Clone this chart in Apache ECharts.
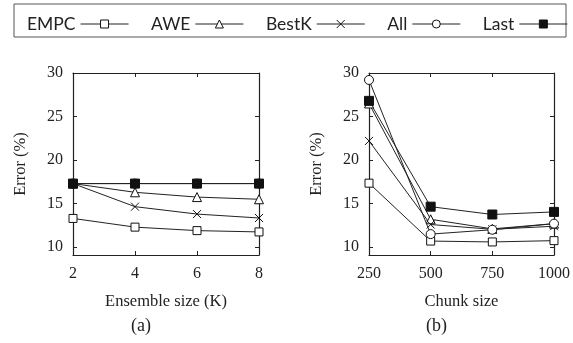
<!DOCTYPE html>
<html><head><meta charset="utf-8">
<script src="https://cdn.jsdelivr.net/npm/echarts@6/dist/echarts.min.js"></script>
<style>html,body{margin:0;padding:0;background:#fff}#c{width:573px;height:343px}</style>
</head><body><div id="c"></div>
<script>
const seriesNames = ['EMPC', 'AWE', 'BestK', 'All', 'Last'];
const ensembleSizes = [2, 4, 6, 8];
const chunkSizes = [250, 500, 750, 1000];
const yTicks = [10, 15, 20, 25, 30];

// Panel (a): error vs ensemble size
const aEMPC  = [13.3, 12.3, 11.9, 11.75];
const aAWE   = [17.3, 16.3, 15.75, 15.5];
const aBestK = [17.3, 14.65, 13.8, 13.35];
const aAll   = [17.3, 17.3, 17.3, 17.3];
const aLast  = [17.3, 17.3, 17.3, 17.3];

// Panel (b): error vs chunk size
const bEMPC  = [17.35, 10.7, 10.6, 10.75];
const bAWE   = [26.5, 13.2, 12.1, 12.7];
const bBestK = [22.2, 12.6, 12.05, 12.4];
const bAll   = [29.2, 11.5, 12.0, 12.7];
const bLast  = [26.8, 14.65, 13.75, 14.05];

const serif = 'Liberation Serif';
const markers = {
  EMPC:  {symbol: 'rect', size: 8, fill: '#fff'},
  AWE:   {symbol: 'triangle', size: 9, fill: '#fff'},
  BestK: {symbol: 'path://M0,0L10,10M10,0L0,10', size: 8, fill: 'none'},
  All:   {symbol: 'circle', size: 9, fill: '#fff'},
  Last:  {symbol: 'rect', size: 9, fill: '#111'}
};

function pairs(xs, ys) { return xs.map((x, i) => [x, ys[i]]); }

function mk(name, gi, xs, ys) {
  const m = markers[name];
  return {
    name, type: 'line', xAxisIndex: gi, yAxisIndex: gi,
    data: pairs(xs, ys),
    symbol: m.symbol, symbolSize: m.size,
    lineStyle: {color: '#222', width: 1},
    itemStyle: {color: m.fill, borderColor: '#111', borderWidth: 1},
    emphasis: {disabled: true},
    animation: false
  };
}

const grids = [
  {left: 73, top: 73, width: 186, height: 182},
  {left: 369, top: 73, width: 187, height: 182}
];

function xAx(gi, min, max, interval, name, pos, show) {
  return {
    type: 'value', gridIndex: gi, min, max, interval, position: pos,
    name: show ? name : '', nameLocation: 'middle', nameGap: 38,
    nameTextStyle: {fontFamily: serif, fontSize: 16.5, color: '#222'},
    axisLine: {show: true, lineStyle: {color: '#222', width: 1.2}},
    axisTick: {show: true, inside: true, length: 4, lineStyle: {color: '#222'}},
    axisLabel: {show: show, margin: 11, fontFamily: serif, fontSize: 16, color: '#222',
      formatter: v => String(v)},
    splitLine: {show: false}
  };
}
function yAx(gi, pos, show) {
  return {
    type: 'value', gridIndex: gi, min: 9.1, max: 30, position: pos,
    name: show ? 'Error (%)' : '', nameLocation: 'middle', nameGap: 44, nameRotate: 90,
    nameTextStyle: {fontFamily: serif, fontSize: 16.5, color: '#222'},
    axisLine: {show: true, onZero: false, lineStyle: {color: '#222', width: 1.2}},
    axisTick: {show: true, inside: true, length: 4, customValues: yTicks, lineStyle: {color: '#222'}},
    axisLabel: {show: show, margin: 10, customValues: yTicks, fontFamily: serif, fontSize: 16, color: '#222'},
    splitLine: {show: false}
  };
}

const option = {
  backgroundColor: '#fff',
  animation: false,
  grid: grids,
  legend: {
    data: seriesNames,
    left: 22, top: 10,
    align: 'right',
    itemWidth: 48, itemHeight: 10, itemGap: 22,
    lineStyle: {width: 1, color: '#222'},
    itemStyle: {borderWidth: 1},
    textStyle: {fontFamily: 'Lato', fontSize: 17.5, color: '#222'},
    selectedMode: false
  },
  graphic: [{
    type: 'rect', shape: {x: 14, y: 4, width: 552, height: 33},
    style: {fill: 'none', stroke: '#555', lineWidth: 1}, silent: true
  }, {
    type: 'text', left: 131, top: 317, style: {text: '(a)', font: '18px "Liberation Serif"', fill: '#222'}
  }, {
    type: 'text', left: 426, top: 317, style: {text: '(b)', font: '18px "Liberation Serif"', fill: '#222'}
  }],
  xAxis: [
    xAx(0, 2, 8, 2, 'Ensemble size (K)', 'bottom', true),
    xAx(1, 250, 1000, 250, 'Chunk size', 'bottom', true),
    xAx(0, 2, 8, 2, '', 'top', false),
    xAx(1, 250, 1000, 250, '', 'top', false)
  ],
  yAxis: [
    yAx(0, 'left', true),
    yAx(1, 'left', true),
    yAx(0, 'right', false),
    yAx(1, 'right', false)
  ],
  series: [
    mk('EMPC', 0, ensembleSizes, aEMPC),
    mk('AWE', 0, ensembleSizes, aAWE),
    mk('BestK', 0, ensembleSizes, aBestK),
    mk('All', 0, ensembleSizes, aAll),
    mk('Last', 0, ensembleSizes, aLast),
    mk('EMPC', 1, chunkSizes, bEMPC),
    mk('AWE', 1, chunkSizes, bAWE),
    mk('BestK', 1, chunkSizes, bBestK),
    mk('All', 1, chunkSizes, bAll),
    mk('Last', 1, chunkSizes, bLast)
  ]
};
const chart = echarts.init(document.getElementById('c'), null, {renderer: 'canvas'});
chart.setOption(option);
</script></body></html>
